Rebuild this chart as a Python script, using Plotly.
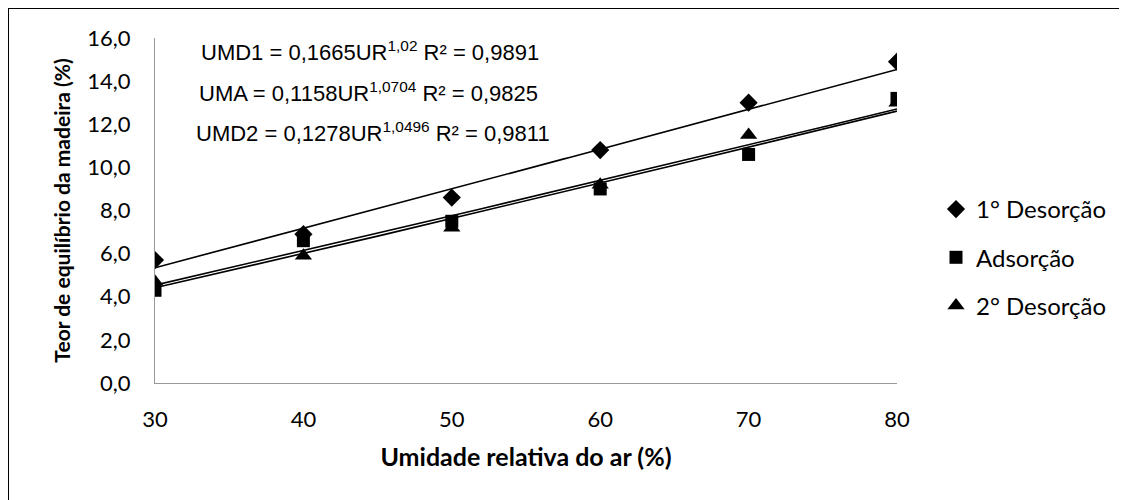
import numpy as np
import plotly.graph_objects as go

ur = [30, 40, 50, 60, 70, 80]
desorcao1 = [5.7, 6.9, 8.6, 10.8, 13.0, 14.9]
adsorcao = [4.3, 6.6, 7.5, 9.0, 10.6, 13.2]
desorcao2 = [4.7, 5.9, 7.2, 9.2, 11.5, 13.0]

# power trend coefficients (from the equations in the chart)
coef_a = [0.1665, 0.1158, 0.1278]
coef_b = [1.02, 1.0704, 1.0496]
names = ["1° Desorção", "Adsorção", "2° Desorção"]
symbols = ["diamond", "square", "triangle-up"]
sizes = [14, 13, 15]
series = [desorcao1, adsorcao, desorcao2]
eq_texts = [
    "UMD1 = 0,1665UR<sup>1,02</sup> R² = 0,9891",
    "UMA = 0,1158UR<sup>1,0704</sup> R² = 0,9825",
    "UMD2 = 0,1278UR<sup>1,0496</sup> R² = 0,9811",
]
y_ticks = [0, 2, 4, 6, 8, 10, 12, 14, 16]
y_tick_labels = ["0,0", "2,0", "4,0", "6,0", "8,0", "10,0", "12,0", "14,0", "16,0"]
x_ticks = [30, 40, 50, 60, 70, 80]

fig = go.Figure()
xs = np.linspace(30, 80, 101)
for a, b in zip(coef_a, coef_b):
    fig.add_trace(go.Scatter(x=xs, y=a * xs ** b, mode="lines",
                             line=dict(color="black", width=1.6),
                             showlegend=False, hoverinfo="skip"))
for i, (nm, ys) in enumerate(zip(names, series)):
    fig.add_trace(go.Scatter(x=ur, y=ys, mode="markers", name=nm,
                             legendgroup=str(i),
                             marker=dict(symbol=symbols[i], size=sizes[i], color="black")))

OFF = 8  # page body margin
W, H = 1127, 500
# plot area in screen pixels
SL, SR, ST, SB = 155, 897, 38, 383
L, T = SL - OFF, ST - OFF
R, B = W - (SR - OFF), H - (SB - OFF)
pw, ph = SR - SL, SB - ST

def px(x):
    return (x - SL) / pw

def py(y):
    return (SB - y) / ph

annotations = []
eq_pos = [(199, 51), (197, 92), (194, 132)]
for t, (ex, ey) in zip(eq_texts, eq_pos):
    annotations.append(dict(text=t, x=px(ex), y=py(ey), xref="paper", yref="paper",
                            xanchor="left", yanchor="middle", showarrow=False,
                            font=dict(family="Liberation Sans, Arial", size=22, color="black")))

fig.update_layout(
    width=W, height=H,
    margin=dict(l=L, r=R, t=T, b=B),
    paper_bgcolor="white", plot_bgcolor="white",
    font=dict(family="Lato, Open Sans, sans-serif", size=22, color="black"),
    xaxis=dict(range=[30, 80], tickvals=x_ticks, showgrid=False, zeroline=False,
               showline=True, linecolor="#999999", linewidth=1.2, ticks="",
               ticklabelstandoff=16, automargin=False,
               tickfont=dict(size=22),
               title=dict(text="<b>Umidade relativa do ar (%)</b>", standoff=17,
                          font=dict(size=25))),
    yaxis=dict(range=[0, 16], tickvals=y_ticks, ticktext=y_tick_labels, showgrid=False,
               zeroline=False, showline=True, linecolor="#999999", linewidth=1.2, ticks="",
               ticklabelstandoff=19, automargin=False,
               tickfont=dict(size=22),
               title=dict(text="<b>Teor de equilíbrio da madeira (%)</b>", standoff=10,
                          font=dict(size=21))),
    legend=dict(x=px(936), y=py(187), xanchor="left", yanchor="top",
                tracegroupgap=14, font=dict(size=24), itemwidth=30,
                bgcolor="rgba(0,0,0,0)"),
    annotations=annotations,
    shapes=[
        dict(type="line", xref="paper", yref="paper", x0=px(8), x1=px(1140), y0=py(8), y1=py(8),
             line=dict(color="black", width=2)),
        dict(type="line", xref="paper", yref="paper", x0=px(8), x1=px(8), y0=py(8), y1=py(515),
             line=dict(color="black", width=2)),
    ],
)
fig.write_html("out.html")
